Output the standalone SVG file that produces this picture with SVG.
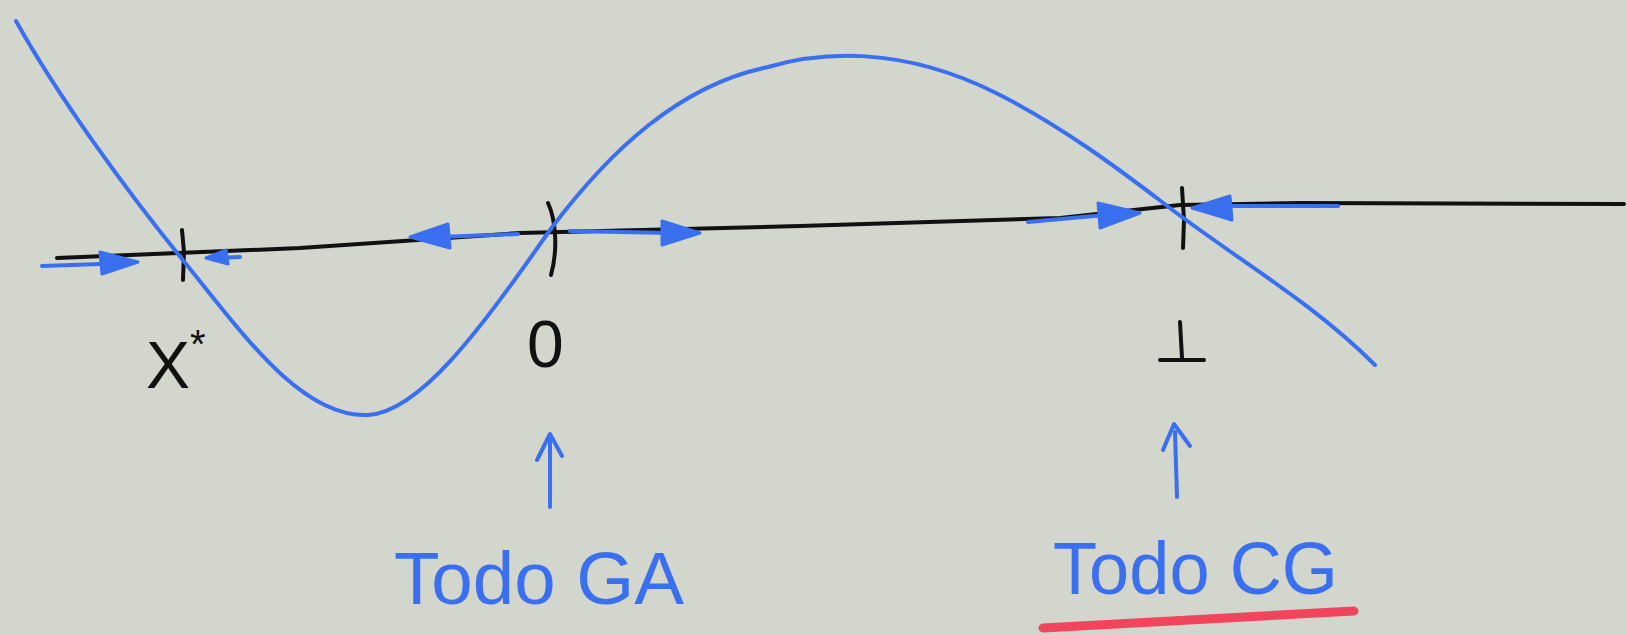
<svg xmlns="http://www.w3.org/2000/svg" width="1627" height="635" viewBox="0 0 1627 635">
<style>
.bg{fill:#d3d6cd}
.ax{fill:none;stroke:#111;stroke-width:4;stroke-linecap:round;stroke-linejoin:round}
.bl{fill:none;stroke:#3a6ff0;stroke-width:4;stroke-linecap:round;stroke-linejoin:round}
.bf{fill:#3a6ff0;stroke:#3a6ff0;stroke-width:3;stroke-linejoin:round}
.bt{fill:#3a6ff0;font-family:"Liberation Sans",sans-serif;font-size:74px}
.kt{fill:#111;font-family:"Liberation Sans",sans-serif;font-size:66px}
</style>
<rect class="bg" x="0" y="0" width="1627" height="635"/>
<g id="axis">
<path class="ax" d="M57,258 L300,248 L520,233 L800,226 L1060,218 L1180,205 L1300,203 L1624,204"/>
<path class="ax" d="M182,230 L184,252 L183,280"/>
<path class="ax" d="M548,203 C556,220 558,250 551,275"/>
<path class="ax" d="M1182,188 L1184,220 L1183,248"/>
</g>
<g id="curve">
<path class="bl" d="M16,21 C60,100 130,195 182,259 C240,330 300,418 368,415 C420,412 480,330 550,230 C610,150 680,85 768,67 C820,52 900,45 996,93 C1060,125 1120,170 1162,202 C1230,255 1310,300 1375,365"/>
</g>
<g id="flow-arrows">
<path class="bl" d="M42,266 L130,263"/>
<path class="bf" d="M100,252 L138,262 L102,274 Z"/>
<path class="bf" d="M206,258 L226,250 L228,264 Z"/>
<path class="bl" d="M215,258 L240,257"/>
<path class="bl" d="M440,237 L518,234"/>
<path class="bf" d="M410,237 L448,224 L450,248 Z"/>
<path class="bl" d="M570,231 L670,233"/>
<path class="bf" d="M662,221 L700,233 L662,245 Z"/>
<path class="bl" d="M1028,222 L1105,215"/>
<path class="bf" d="M1098,203 L1140,213 L1100,228 Z"/>
<path class="bl" d="M1225,206 L1338,206"/>
<path class="bf" d="M1192,208 L1230,196 L1232,220 Z"/>
</g>
<g id="label-xstar">
<text class="kt" x="146" y="388">X<tspan font-size="40" dy="-30">*</tspan></text>
</g>
<g id="label-0">
<text class="kt" x="527" y="367">0</text>
</g>
<g id="label-1">
<path class="ax" d="M1180,322 L1182,358 M1160,360 L1204,360"/>
</g>
<g id="pointer-GA">
<path class="bl" d="M550,507 L550,440 M537,460 L550,434 L562,456"/>
<text class="bt" x="394" y="604" textLength="290" lengthAdjust="spacingAndGlyphs">Todo GA</text>
</g>
<g id="pointer-CG">
<path class="bl" d="M1177,497 L1175,432 M1163,450 L1174,424 L1190,446"/>
<text class="bt" x="1053" y="594" textLength="285" lengthAdjust="spacingAndGlyphs">Todo CG</text>
<path d="M1043,628 L1354,611" fill="none" stroke="#f0455c" stroke-width="9" stroke-linecap="round"/>
</g>
</svg>
